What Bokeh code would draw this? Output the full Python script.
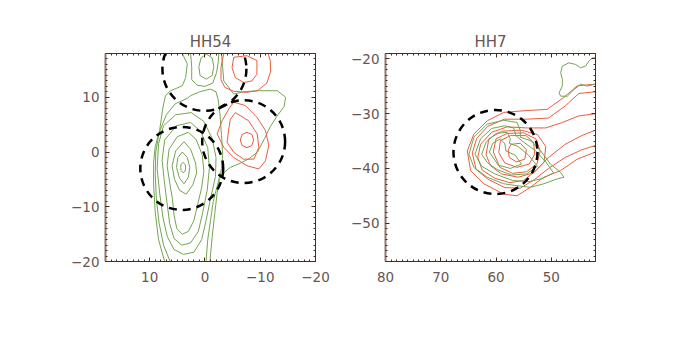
from bokeh.plotting import figure
from bokeh.layouts import row
from bokeh.models import Range1d, LinearAxis, FixedTicker, Title
from bokeh.embed import file_html
from bokeh.resources import INLINE

# ---------------- data ----------------
titles = ["HH54", "HH7"]

# HH54 panel
hh54_xrange = (18, -20)
hh54_yrange = (-20, 18)
hh54_xticks = [10, 0, -10, -20]
hh54_yticks = [-20, -10, 0, 10]

hh54_circle_x = [4.2, -7.0, 0.1]
hh54_circle_y = [-3.0, 1.9, 15.2]
hh54_circle_r = [7.5, 7.5, 7.6]

hh54_green_x = [
    [3.95, 3.55, 3.5, 3.6, 3.95, 4.3, 4.4, 4.3, 3.95],
    [4.1, 3.2, 2.75, 3.0, 3.8, 4.6, 5.15, 4.9, 4.1],
    [3.8, 2.6, 1.7, 1.5, 2.2, 3.4, 4.6, 5.5, 5.95, 5.3, 3.8],
    [3.0, 1.6, 0.5, 0.2, 0.6, 1.3, 2.0, 3.0, 4.1, 5.1, 5.6, 5.9, 6.4, 6.85, 6.5, 5.0, 3.0],
    [2.6, 0.8, -0.5, -0.8, -0.4, 0.4, 1.2, 2.6, 4.2, 5.6, 6.4, 6.9, 7.4, 7.75, 7.3, 5.2, 2.6],
    [2.5, 0.2, -1.3, -2.0, -1.9, -1.0, -0.2, 0.6, 2.0, 3.9, 5.6, 6.8, 7.6, 8.2, 8.65, 8.4, 7.5, 5.3, 2.5],
    [6.3, 7.5, 8.3, 8.8, 9.0, 8.9, 8.3, 7.0, 5.4, 3.2, 2.6, 1.0, -1.0, -2.0, -2.4, -2.7, -3.0, -3.2, -3.0,
     -2.4, -1.5, -1.0, -0.5, -0.2],
    [7.3, 8.4, 9.0, 9.3, 9.3, 9.0, 8.2, 7.6, 7.15, 6.2, 4.1, 3.5, 3.2, 4.1],
    [-3.0, -3.2, -3.4, -5.2, -7.0, -9.4, -13.1, -14.6, -14.3, -13.0, -11.8, -10.8, -9.5, -8.0, -6.5,
     -4.6, -3.6, -2.6, -2.2, -1.8, -1.3, -0.9],
    [-0.25, 0.7, 1.1, 0.9, -0.25, -1.3, -1.6, -1.3, -0.25],
    [2.6, 2.4, 2.4, 1.4, 0.0, -1.4, -2.1, -2.4, -2.5],
]
hh54_green_y = [
    [-1.9, -2.3, -2.9, -3.5, -3.8, -3.4, -2.8, -2.2, -1.9],
    [0.0, -1.0, -2.8, -4.6, -5.8, -4.8, -2.8, -1.0, 0.0],
    [1.9, 0.5, -2.0, -3.8, -6.0, -7.7, -7.0, -5.0, -2.5, 0.2, 1.9],
    [3.6, 2.3, -0.5, -3.5, -6.5, -9.5, -12.5, -14.5, -15.0, -14.0, -11.5, -8.5, -5.5, -2.5, 0.5, 2.8, 3.6],
    [5.4, 3.8, 0.8, -3.0, -7.0, -11.0, -14.5, -16.6, -17.0, -15.8, -13.0, -9.0, -5.0, -1.5, 2.2, 4.8, 5.4],
    [7.2, 5.6, 2.5, -1.0, -4.5, -8.5, -12.5, -16.0, -18.3, -18.7, -17.8, -15.5, -12.0, -7.5, -3.0, 1.5, 4.8, 6.8, 7.2],
    [-20, -17, -13, -8.5, -4, 0, 3.5, 6.8, 8.8, 9.8, 10.3, 11.0, 11.5, 11.0, 9.5, 7.0, 3.0, -0.5, -3.0,
     -5.5, -9.0, -12.5, -16.0, -20],
    [-20, -16, -11, -6, -2, 1, 4.0, 8.2, 10.3, 11.2, 12.1, 13.6, 16.1, 18],
    [18, 15.5, 13.0, 10.6, 11.0, 11.2, 11.2, 10.0, 8.3, 6.5, 4.6, 2.5, 0.0, -1.2, -2.0,
     -2.8, -3.6, -5.0, -7.5, -11.0, -15.5, -20],
    [17.9, 17.2, 15.6, 14.0, 13.3, 14.0, 15.6, 17.2, 17.9],
    [18, 15.5, 13.2, 12.2, 12.0, 12.6, 14.5, 16.5, 18],
]

hh54_red_x = [
    [-5.2, -7.6, -9.4, -9.4, -8.5, -7.0, -5.5, -4.9, -5.2],
    [-3.4, -2.9, -2.9, -3.6, -5.2, -7.5, -9.5, -11.2, -11.9, -11.8, -11.4],
    [-7.6, -8.5, -8.8, -8.5, -7.6, -6.7, -6.4, -6.7, -7.6],
    [-5.5, -7.9, -9.45, -9.75, -8.85, -7.0, -5.2, -4.0, -4.3, -4.6, -5.5],
    [-5.2, -7.3, -9.45, -10.95, -11.55, -10.95, -9.75, -7.6, -5.2, -3.4, -2.2, -3.1, -4.3, -5.2],
]
hh54_red_y = [
    [17.3, 17.6, 16.7, 14.2, 13.0, 12.7, 13.6, 15.4, 17.3],
    [18, 15.5, 13.2, 11.8, 11.1, 10.9, 11.2, 12.6, 14.8, 16.8, 18],
    [3.6, 3.2, 2.2, 1.2, 0.8, 1.2, 2.2, 3.2, 3.6],
    [7.2, 5.7, 3.3, 0.85, -1.3, -1.3, -0.05, 1.8, 4.2, 6.0, 7.2],
    [9.1, 8.5, 6.3, 3.9, 1.2, -1.6, -3.1, -2.5, -1.0, 0.85, 3.3, 5.7, 7.85, 9.1],
]

# HH7 panel
hh7_xrange = (80, 42)
hh7_yrange = (-57, -19)
hh7_xticks = [80, 70, 60, 50]
hh7_yticks = [-50, -40, -30, -20]

hh7_circle_x = [60.1]
hh7_circle_y = [-37.0]
hh7_circle_r = [7.6]

hh7_red_x = [
    [42.0, 45.3, 47.7, 50.75, 54.97, 58.6, 61.6, 64.0, 65.2, 64.6, 62.2, 58.6, 56.2, 53.8, 51.35, 48.35, 45.3, 42.0],
    [42.0, 45.0, 47.5, 50.5, 54.5, 58.5, 61.5, 63.5, 64.3, 63.6, 61.4, 58.4, 55.6, 53.0, 50.5, 47.5, 44.5, 42.0],
    [42.0, 45.0, 48.0, 51.0, 54.5, 58.0, 60.8, 62.8, 63.3, 62.5, 60.2, 57.5, 55.0, 52.8, 50.5, 47.5, 44.5, 42.0],
    [61.8, 61.3, 59.0, 55.5, 52.5, 51.0, 51.3, 53.2, 56.0, 59.0, 61.0, 61.8],
    [60.5, 60.0, 58.0, 55.0, 52.8, 52.0, 52.6, 54.5, 57.0, 59.3, 60.5],
    [59.5, 59.2, 57.4, 54.6, 53.2, 53.0, 54.0, 56.2, 58.4, 59.5],
    [57.8, 57.3, 55.6, 54.5, 54.8, 56.3, 57.6, 57.8],
]
hh7_red_y = [
    [-24.6, -24.9, -27.0, -29.2, -29.46, -29.76, -31.3, -33.7, -36.8, -40.4, -42.8, -44.7, -45.0, -43.45, -41.6, -40.4, -38.3, -37.0],
    [-26.0, -26.3, -28.6, -30.8, -31.0, -31.0, -32.3, -34.5, -37.2, -40.2, -42.0, -43.5, -43.6, -42.0, -40.0, -38.0, -36.6, -35.8],
    [-30.0, -30.4, -31.6, -32.6, -32.6, -32.4, -33.4, -35.6, -38.0, -40.3, -41.8, -42.6, -42.2, -40.4, -38.0, -35.6, -34.0, -33.0],
    [-37.5, -34.6, -33.2, -33.0, -33.8, -36.0, -38.8, -40.8, -41.6, -41.0, -39.5, -37.5],
    [-37.0, -34.6, -33.6, -33.5, -34.6, -36.8, -39.2, -40.6, -40.9, -39.8, -37.0],
    [-37.1, -34.9, -34.0, -34.0, -35.2, -37.4, -39.2, -39.8, -39.0, -37.1],
    [-36.6, -35.6, -35.4, -36.6, -38.3, -38.8, -38.0, -36.6],
]

hh7_green_x = [
    [64.9, 64.0, 61.6, 58.6, 56.2, 55.6, 55.6, 53.8, 51.95, 50.15, 48.35, 47.7, 48.9, 51.35, 53.8, 56.2, 58.6, 61.6, 64.0, 64.9],
    [63.8, 62.8, 60.8, 58.5, 56.8, 56.4, 55.0, 52.8, 51.0, 49.6, 51.5, 54.0, 57.0, 60.2, 62.6, 63.8],
    [62.6, 61.8, 60.0, 58.0, 57.4, 57.6, 56.0, 54.2, 52.5, 54.5, 57.2, 59.8, 61.6, 62.6],
    [61.2, 60.6, 59.2, 58.4, 58.2, 56.5, 55.4, 57.4, 59.6, 61.2],
    [42.0, 42.6, 43.2, 43.8, 44.7, 45.6, 46.8, 48.0, 48.3, 48.0, 48.0, 48.6, 48.3, 47.1, 45.9, 44.7, 43.5, 42.0],
]
hh7_green_y = [
    [-37.4, -34.3, -31.9, -31.2, -31.6, -33.1, -34.3, -34.9, -36.75, -39.2, -40.7, -41.6, -41.9, -42.8, -43.45, -43.15, -42.8, -41.6, -39.8, -37.4],
    [-37.4, -34.6, -32.7, -32.2, -32.6, -34.0, -35.2, -36.8, -38.8, -40.8, -41.8, -42.4, -42.2, -41.0, -39.6, -37.4],
    [-37.4, -35.2, -33.6, -33.4, -34.6, -35.4, -36.0, -37.5, -39.6, -41.0, -41.2, -40.2, -38.9, -37.4],
    [-37.0, -35.4, -34.6, -35.5, -36.8, -37.6, -39.2, -40.0, -39.4, -37.0],
    [-19.8, -19.8, -20.4, -21.3, -21.6, -21.0, -20.7, -21.3, -22.5, -23.7, -24.95, -26.2, -26.8, -26.8, -25.6, -24.6, -24.95, -24.6],
]

# ---------------- styling ----------------
GREEN = "#72a650"
RED = "#ea5d3f"
AXIS_DARK = "#4b2a18"
AXIS_LEFT = "#8e7a70"
TEXT = "#685550"
FONT = "DejaVu Sans"


def fmt(v):
    return ("\u2212" + str(abs(v))) if v < 0 else str(v)


def make_panel(title, xr, yr, xt, yt, border_left, border_right):
    p = figure(output_backend="svg", toolbar_location=None, title=None,
               frame_width=210, frame_height=208,
               x_range=Range1d(*xr), y_range=Range1d(*yr),
               min_border_left=border_left, min_border_right=border_right,
               min_border_top=53, min_border_bottom=50,
               x_axis_location=None, y_axis_location=None)
    p.grid.visible = False
    p.outline_line_color = None
    p.background_fill_color = "white"
    p.border_fill_color = "white"

    lo_x, hi_x = min(xr), max(xr)
    lo_y, hi_y = min(yr), max(yr)
    xminor = list(range(int(lo_x), int(hi_x) + 1))
    yminor = list(range(int(lo_y), int(hi_y) + 1))
    xticker = FixedTicker(ticks=xt, minor_ticks=xminor)
    yticker = FixedTicker(ticks=yt, minor_ticks=yminor)

    for loc in ["below", "above", "left", "right"]:
        ax = LinearAxis(ticker=xticker if loc in ("below", "above") else yticker)
        ax.major_tick_in = 4
        ax.major_tick_out = 0
        ax.minor_tick_in = 2
        ax.minor_tick_out = 0
        ax.axis_line_color = AXIS_LEFT if loc == "left" else AXIS_DARK
        ax.axis_line_width = 2 if loc == "left" else 1
        ax.major_tick_line_color = AXIS_DARK
        ax.minor_tick_line_color = AXIS_DARK
        if loc in ("below", "left"):
            ax.major_label_text_font = FONT
            ax.major_label_text_font_size = "13.5px"
            ax.major_label_text_color = TEXT
            ax.major_label_standoff = 6 if loc == "left" else 10
            ticks = xt if loc == "below" else yt
            ax.major_label_overrides = {t: fmt(t) for t in ticks}
        else:
            ax.major_label_text_color = None
            ax.major_label_text_font_size = "1px"
            ax.major_label_standoff = 0
        p.add_layout(ax, loc)

    p.add_layout(Title(text=title, align="center", text_font=FONT,
                       text_font_size="15px", text_font_style="normal",
                       text_color=TEXT, standoff=6), "above")
    return p


p1 = make_panel(titles[0], hh54_xrange, hh54_yrange, hh54_xticks, hh54_yticks, 105, 30)
p1.multi_line(hh54_green_x, hh54_green_y, line_color=GREEN, line_width=1)
p1.multi_line(hh54_red_x, hh54_red_y, line_color=RED, line_width=1)
p1.circle(hh54_circle_x, hh54_circle_y, radius=hh54_circle_r, fill_color=None,
          line_color="black", line_width=2.5, line_dash="8 6")

p2 = make_panel(titles[1], hh7_xrange, hh7_yrange, hh7_xticks, hh7_yticks, 40, 60)
p2.multi_line(hh7_red_x, hh7_red_y, line_color=RED, line_width=1)
p2.multi_line(hh7_green_x, hh7_green_y, line_color=GREEN, line_width=1)
p2.circle(hh7_circle_x, hh7_circle_y, radius=hh7_circle_r, fill_color=None,
          line_color="black", line_width=2.5, line_dash="8 6")

layout = row(p1, p2)
open("out.html", "w").write(file_html(layout, INLINE))
